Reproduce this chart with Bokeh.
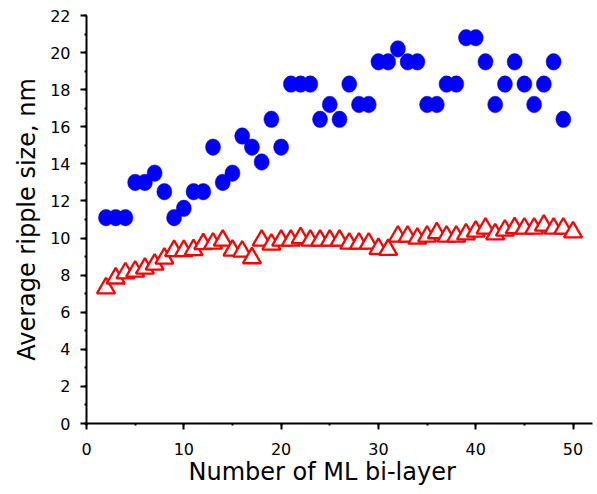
from bokeh.plotting import figure
from bokeh.models import Range1d, SingleIntervalTicker, ColumnDataSource, Title
from bokeh.embed import file_html
from bokeh.resources import INLINE

# Data
blue_layers = list(range(2, 50))
blue_size = [11.1, 11.1, 11.1, 13.0, 13.0, 13.5, 12.5, 11.1, 11.6, 12.5, 12.5, 14.9,
             13.0, 13.5, 15.5, 14.9, 14.1, 16.4, 14.9, 18.3, 18.3, 18.3, 16.4, 17.2,
             16.4, 18.3, 17.2, 17.2, 19.5, 19.5, 20.2, 19.5, 19.5, 17.2, 17.2, 18.3,
             18.3, 20.8, 20.8, 19.5, 17.2, 18.3, 19.5, 18.3, 17.2, 18.3, 19.5, 16.4]

red_layers = list(range(2, 51))
red_size = [7.30, 7.83, 8.11, 8.20, 8.36, 8.58, 8.90, 9.31, 9.31, 9.36, 9.68, 9.71,
            9.87, 9.33, 9.28, 8.92, 9.87, 9.66, 9.87, 9.87, 10.00, 9.87, 9.87, 9.87,
            9.87, 9.71, 9.71, 9.71, 9.42, 9.37, 10.09, 10.09, 9.98, 10.09, 10.27, 10.09,
            10.09, 10.21, 10.36, 10.52, 10.21, 10.41, 10.54, 10.52, 10.52, 10.68, 10.52,
            10.52, 10.32]

x_label = "Number of ML bi-layer"
y_label = "Average ripple size, nm"

FONT = "DejaVu Sans"

p = figure(width=597, height=494, output_backend="svg", toolbar_location=None,
           x_range=Range1d(0, 52), y_range=Range1d(0, 22),
           min_border_left=86, min_border_right=5, min_border_top=15, min_border_bottom=71)

p.outline_line_color = None
p.xgrid.visible = False
p.ygrid.visible = False
p.background_fill_color = "white"
p.border_fill_color = "white"

blue_src = ColumnDataSource(dict(x=blue_layers, y=blue_size))
red_src = ColumnDataSource(dict(x=red_layers, y=red_size))

p.ellipse(x="x", y="y", width=15, height=16.5, width_units="screen", height_units="screen",
          source=blue_src, fill_color="#0000FF", line_color="#0000FF", line_width=0.5)
p.scatter(x="x", y="y", marker="triangle", size=18, source=red_src,
          fill_color="white", fill_alpha=1.0, line_color="#FF0000", line_width=2.3)

p.xaxis.ticker = SingleIntervalTicker(interval=10, num_minor_ticks=2)
p.yaxis.ticker = SingleIntervalTicker(interval=2, num_minor_ticks=2)

for ax in (p.xaxis[0], p.yaxis[0]):
    ax.axis_line_width = 2
    ax.axis_line_color = "black"
    ax.major_tick_line_width = 2
    ax.major_tick_line_color = "black"
    ax.major_tick_out = 6
    ax.major_tick_in = 0
    ax.minor_tick_line_width = 2
    ax.minor_tick_line_color = "black"
    ax.minor_tick_out = 2
    ax.minor_tick_in = 0
    ax.major_label_text_font = FONT
    ax.major_label_text_font_size = "16px"
    ax.major_label_text_color = "black"
    ax.axis_label_text_font = FONT
    ax.axis_label_text_font_size = "24px"
    ax.axis_label_text_font_style = "normal"
    ax.axis_label_text_color = "black"

p.yaxis.axis_label = y_label
p.xaxis.major_label_standoff = 13
p.yaxis.major_label_standoff = 10
p.yaxis.axis_label_standoff = 6

# x-axis title, placed where the reference has it (a little left of the frame centre)
p.add_layout(Title(text=x_label, align="left", offset=102, standoff=0, vertical_align="top",
                   text_font=FONT, text_font_size="24px", text_font_style="normal",
                   text_color="black"), "below")

open("out.html", "w").write(file_html(p, INLINE))
